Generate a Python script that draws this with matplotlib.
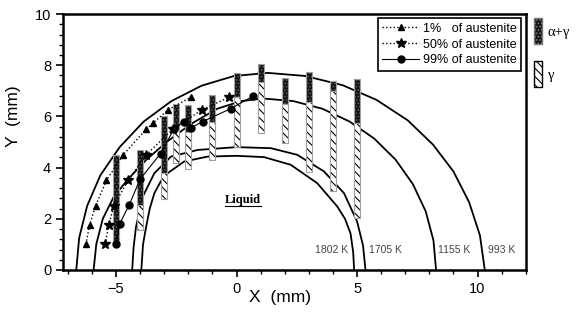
import matplotlib.pyplot as plt
from matplotlib.patches import Patch
from matplotlib.lines import Line2D
from matplotlib.ticker import MultipleLocator

plt.rcParams['font.family'] = ['Liberation Sans', 'DejaVu Sans']
plt.rcParams['hatch.linewidth'] = 0.8

# isotherm contours (mm)
iso_1802_x = [-3.95, -3.88, -3.75, -3.6, -3.41, -3.15, -2.86, -2.17, -1.2, 0.0, 1.14, 2.25, 3.35, 4.18, 4.5, 4.73, 4.84, 4.88]
iso_1802_y = [0.0, 1.0, 1.69, 2.4, 3.0, 3.45, 3.78, 4.24, 4.43, 4.46, 4.41, 4.11, 3.39, 2.48, 2.0, 1.43, 0.7, 0.0]
iso_1705_x = [-4.33, -4.27, -4.17, -3.89, -3.41, -2.72, -1.61, 0.0, 1.42, 2.52, 3.63, 4.46, 5.0, 5.25, 5.35]
iso_1705_y = [0.0, 0.9, 1.69, 2.87, 3.78, 4.43, 4.69, 4.8, 4.76, 4.5, 3.85, 3.0, 1.9, 0.95, 0.0]
iso_1155_x = [-5.93, -5.82, -5.55, -5.1, -4.5, -3.75, -2.9, -1.9, -0.8, 0.2, 1.1, 2.35, 3.56, 4.69, 5.72, 6.6, 7.32, 7.85, 8.17, 8.28]
iso_1155_y = [0.0, 1.0, 2.0, 2.85, 3.55, 4.3, 5.0, 5.7, 6.3, 6.6, 6.7, 6.6, 6.3, 5.8, 5.13, 4.31, 3.35, 2.29, 1.16, 0.0]
iso_993_x = [-6.65, -6.53, -6.2, -5.65, -4.85, -3.85, -2.7, -1.45, -0.1, 1.3, 2.85, 4.4, 5.8, 7.1, 8.15, 9.0, 9.65, 10.1, 10.3]
iso_993_y = [0.0, 1.25, 2.5, 3.7, 4.8, 5.8, 6.6, 7.2, 7.58, 7.7, 7.58, 7.22, 6.65, 5.85, 4.9, 3.85, 2.65, 1.35, 0.0]

iso_labels = ['1802 K', '1705 K', '1155 K', '993 K']
iso_label_x = [4.62, 5.5, 8.38, 10.45]

# austenite fraction lines
tri_x = [-6.25, -6.1, -5.85, -5.4, -4.7, -3.75, -3.45, -2.85, -1.9]
tri_y = [1.0, 1.75, 2.5, 3.5, 4.5, 5.5, 5.75, 6.25, 6.75]
star_x = [-5.45, -5.3, -5.1, -4.5, -3.75, -2.65, -1.45, -0.3]
star_y = [1.0, 1.75, 2.5, 3.5, 4.5, 5.5, 6.25, 6.75]
circ_x = [-5.0, -4.85, -4.45, -4.0, -3.15, -2.6, -2.2, -1.9, -1.4, -0.25, 0.7]
circ_y = [1.0, 1.8, 2.55, 3.55, 4.55, 5.5, 5.8, 5.55, 5.8, 6.3, 6.8]

# measured phase bars: top of alpha+gamma, alpha+gamma/gamma boundary, bottom of gamma
bar_x = [-5, -4, -3, -2.5, -2, -1, 0, 1, 2, 3, 4, 5]
bar_top = [4.5, 4.7, 6.0, 6.5, 6.45, 6.85, 7.7, 8.05, 7.52, 7.75, 7.38, 7.46]
bar_mid = [1.0, 2.55, 3.8, 5.48, 5.41, 5.8, 6.76, 7.36, 6.48, 6.55, 6.98, 5.74]
bar_bot = [1.0, 1.56, 2.76, 4.17, 3.94, 4.3, 4.82, 5.35, 4.95, 3.83, 3.1, 2.02]

fig = plt.figure(figsize=(5.85, 3.24), dpi=100)
ax = fig.add_axes([0.1077, 0.1667, 0.791, 0.790])

for xs, ys in [(iso_1802_x, iso_1802_y), (iso_1705_x, iso_1705_y),
               (iso_1155_x, iso_1155_y), (iso_993_x, iso_993_y)]:
    ax.plot(xs, ys, color='black', lw=1.3, zorder=2)

for lab, lx in zip(iso_labels, iso_label_x):
    ha = 'right' if lab == '1802 K' else 'left'
    ax.text(lx, 0.8, lab, ha=ha, va='center', fontsize=7.5, color='#444444')

dark_h = [t - m for t, m in zip(bar_top, bar_mid)]
hatch_h = [m - b for m, b in zip(bar_mid, bar_bot)]
ax.bar(bar_x, dark_h, bottom=bar_mid, width=0.25, facecolor='#141414',
       edgecolor='#5a5a5a', lw=0, hatch='.....', zorder=3)
ax.bar(bar_x, dark_h, bottom=bar_mid, width=0.25, facecolor='none',
       edgecolor='#a0a0a0', lw=0.8, zorder=3)
ax.bar(bar_x, hatch_h, bottom=bar_bot, width=0.25, facecolor='white',
       edgecolor='black', lw=0, hatch='\\\\\\\\', zorder=3)
ax.bar(bar_x, hatch_h, bottom=bar_bot, width=0.25, facecolor='none',
       edgecolor='#a0a0a0', lw=0.8, zorder=3)

l1, = ax.plot(tri_x, tri_y, color='black', ls=':', lw=1, marker='^', ms=5,
              label='1%   of austenite', zorder=4)
l2, = ax.plot(star_x, star_y, color='black', ls=':', lw=1, marker='*', ms=7,
              label='50% of austenite', zorder=4)
l3, = ax.plot(circ_x, circ_y, color='black', ls='-', lw=0.8, marker='o', ms=5,
              label='99% of austenite', zorder=4)

liq = ax.text(0.28, 2.72, 'Liquid', ha='center', va='center', fontsize=9,
              family='Liberation Serif', fontweight='bold')

ax.set_xlim(-7.2, 12)
ax.set_ylim(0, 10)
ax.xaxis.set_major_locator(MultipleLocator(5))
ax.xaxis.set_minor_locator(MultipleLocator(1))
ax.yaxis.set_major_locator(MultipleLocator(2))
ax.yaxis.set_minor_locator(MultipleLocator(0.4))
ax.tick_params(which='major', direction='out', length=5, width=1.2, labelsize=10.5)
ax.tick_params(which='minor', direction='out', length=3, width=1)
for sp in ax.spines.values():
    sp.set_linewidth(1.8)

ax.set_xlabel('X  (mm)', fontsize=12.5)
ax.set_ylabel('Y  (mm)', fontsize=12.5)
ax.xaxis.set_label_coords(0.47, -0.08)
ax.yaxis.set_label_coords(-0.09, 0.6)

leg = ax.legend(handles=[l1, l2, l3], loc='upper right', fontsize=9,
                frameon=True, fancybox=False, framealpha=1, edgecolor='black',
                borderpad=0.35, handlelength=3.0, handletextpad=0.3,
                labelspacing=0.3, borderaxespad=0.35)
leg.get_frame().set_linewidth(1.2)

phase_handles = [Patch(facecolor='#141414', edgecolor='#7a7a7a', hatch='.....'),
                 Patch(facecolor='white', edgecolor='black', hatch='\\\\\\\\')]
fig.legend(handles=phase_handles, labels=['α+γ', 'γ'], loc='upper left',
           bbox_to_anchor=(0.913, 0.943), frameon=False, handlelength=0.55,
           handleheight=2.3, labelspacing=1.2, handletextpad=0.4,
           borderaxespad=0, borderpad=0,
           prop={'family': 'Liberation Serif', 'size': 10.5})

# underline the Liquid label
fig.canvas.draw()
bb = liq.get_window_extent()
fig.add_artist(Line2D([bb.x0, bb.x1], [bb.y0, bb.y0], transform=None,
                      color='black', lw=0.8))

fig.savefig('out.png', dpi=100)
